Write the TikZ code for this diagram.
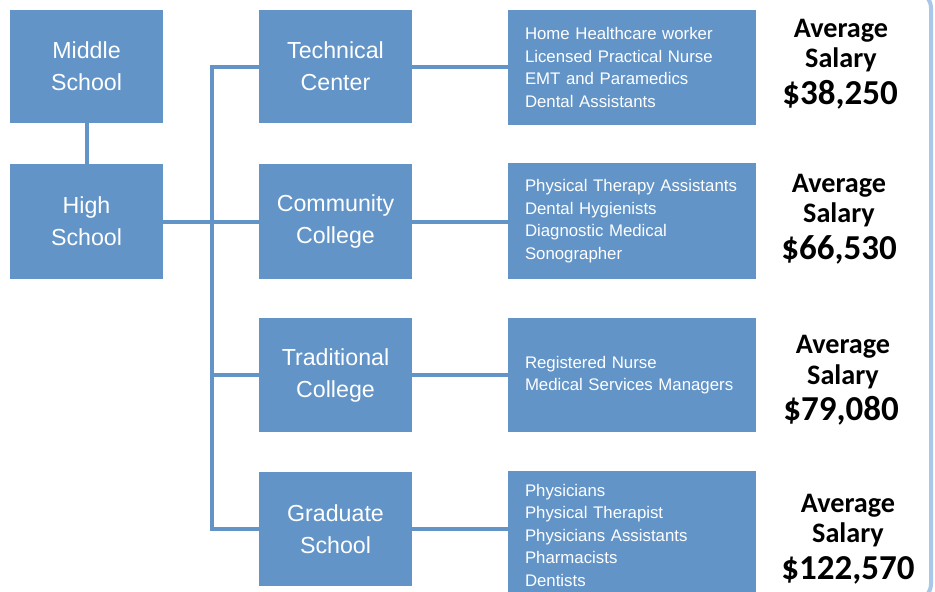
\documentclass[tikz,border=0pt]{standalone}
\usepackage{fontspec}
\setmainfont{Liberation Sans}
\newfontfamily\salfont{Carlito}
\definecolor{boxblue}{RGB}{98,148,200}
\definecolor{framecol}{RGB}{168,199,233}
\begin{document}
\begin{tikzpicture}[x=1pt,y=-1pt,
  box/.style={fill=boxblue,draw=none,inner sep=0pt,text=white,align=center,
    font=\fontsize{23.2}{32}\selectfont,minimum width=153pt},
  jobbox/.style={fill=boxblue,draw=none,inner xsep=17pt,inner ysep=0pt,text=white,align=left,
    font=\fontsize{16.8}{22.5}\selectfont,minimum width=248pt,text width=214pt},
  conn/.style={draw=boxblue,line width=4pt},
  avg/.style={inner sep=0pt,font=\salfont\bfseries\fontsize{28.2}{30}\selectfont},
  amt/.style={inner sep=0pt,font=\salfont\bfseries\fontsize{35}{36}\selectfont}]
\useasboundingbox (0,0) rectangle (935,592);
\clip (0,0) rectangle (935,592);
\fill[white] (0,0) rectangle (935,592);
% frame on the right
\draw[framecol,line width=4pt,rounded corners=16pt] (860,-8) -- (931,-8) -- (931,600) -- (860,600);
% boxes
\node[box,minimum height=113pt] (ms) at (86.5,66.5) {Middle\\School};
\node[box,minimum height=115pt] (hs) at (86.5,221.5) {High\\School};
\node[box,minimum height=113pt] (tc) at (335.5,66.5) {Technical\\Center};
\node[box,minimum height=115pt] (cc) at (335.5,221.5) {Community\\College};
\node[box,minimum height=114pt] (tr) at (335.5,375) {Traditional\\College};
\node[box,minimum height=114pt] (gs) at (335.5,529) {Graduate\\School};
\node[jobbox,minimum height=115pt] (j1) at (632,67.5) {Home Healthcare worker\\Licensed Practical Nurse\\EMT and Paramedics\\Dental Assistants};
\node[jobbox,minimum height=116pt] (j2) at (632,221) {Physical Therapy Assistants\\Dental Hygienists\\Diagnostic Medical\\Sonographer};
\node[jobbox,minimum height=114pt] (j3) at (632,375) {Registered Nurse\\Medical Services Managers};
\node[jobbox,minimum height=128pt] (j4) at (632,535) {Physicians\\Physical Therapist\\Physicians Assistants\\Pharmacists\\Dentists};
% connectors
\coordinate (ttop) at (211.5,66.5);
\coordinate (tbot) at (211.5,529);
\draw[conn] (ms.south) -- (hs.north);
\draw[conn] (tc.west) -- (ttop) -- (tbot) -- (gs.west);
\draw[conn] (hs.east) -- (cc.west);
\draw[conn] (tr.west) -- (tr.west -| ttop);
\draw[conn] (tc.east) -- (j1.west |- tc.east);
\draw[conn] (cc.east) -- (j2.west |- cc.east);
\draw[conn] (tr.east) -- (j3.west |- tr.east);
\draw[conn] (gs.east) -- (j4.west |- gs.east);
% salaries
\node[avg] (a1) at (841,30.5) {Average};
\node[avg] (s1) at (841,59.5) {Salary};
\node[amt] (m1) at (840,95) {\$38,250};
\node[avg] (a2) at (839,185.5) {Average};
\node[avg] (s2) at (839,214.5) {Salary};
\node[amt] (m2) at (839,250) {\$66,530};
\node[avg] (a3) at (843,346.5) {Average};
\node[avg] (s3) at (843,376.5) {Salary};
\node[amt] (m3) at (841,411) {\$79,080};
\node[avg] (a4) at (848,505.5) {Average};
\node[avg] (s4) at (848,534.5) {Salary};
\node[amt] (m4) at (848,570) {\$122,570};
\end{tikzpicture}
\end{document}
